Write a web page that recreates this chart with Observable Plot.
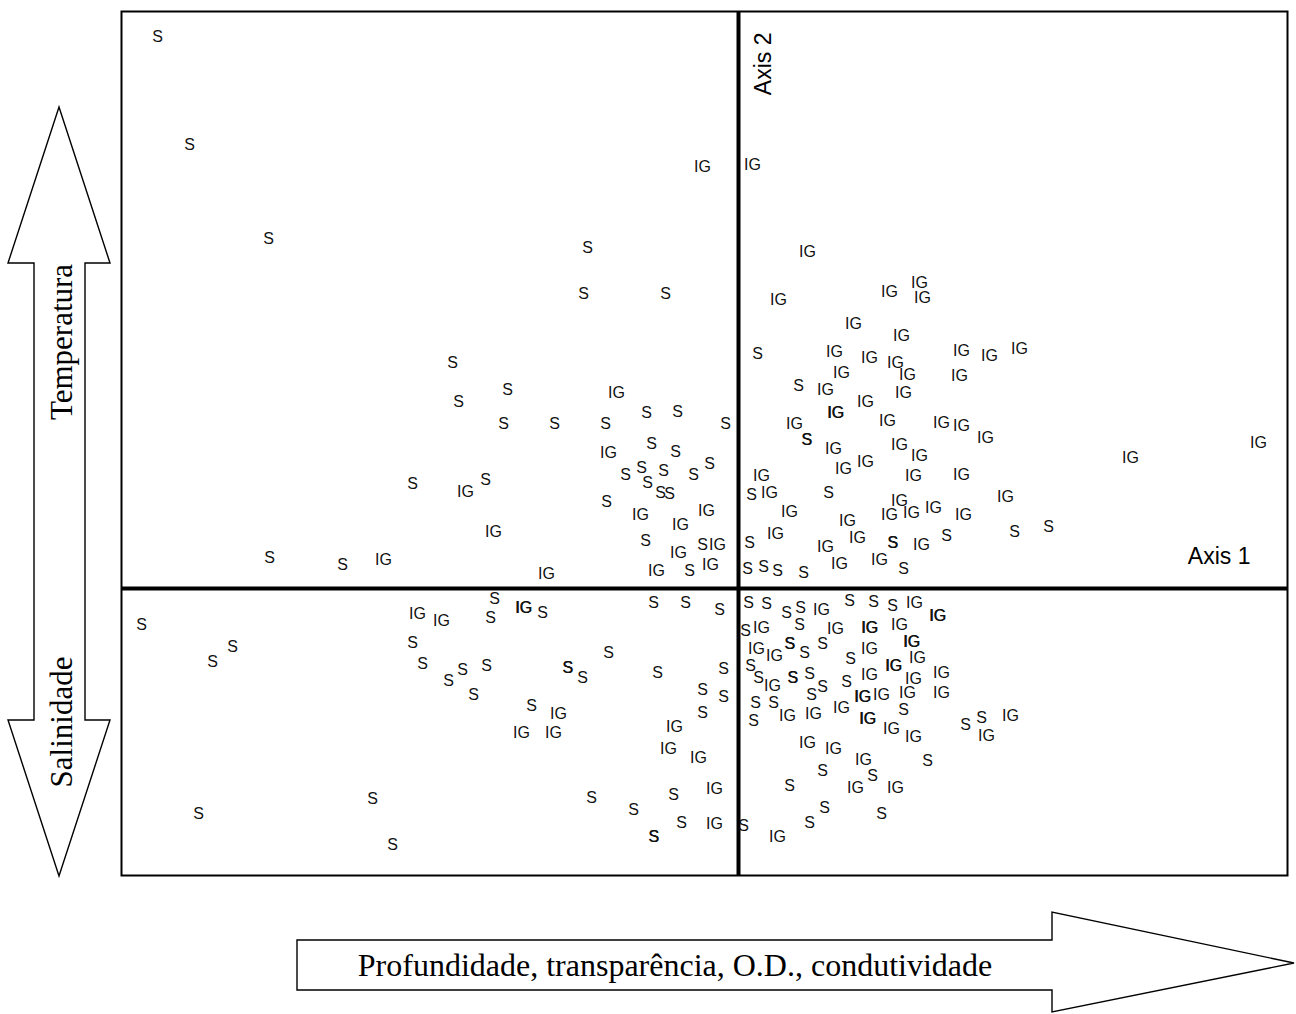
<!DOCTYPE html>
<html>
<head>
<meta charset="utf-8">
<script src="https://cdn.jsdelivr.net/npm/d3@7"></script>
<script src="https://cdn.jsdelivr.net/npm/@observablehq/plot@0.6"></script>
<style>
  html, body { margin: 0; padding: 0; background: #fff; overflow: hidden; }
  svg { display: block; }
</style>
</head>
<body>
<div id="chart"></div>
<script>
// Ordination scores [axis 1, axis 2] of each sample, by group.
// Repeated pairs are coincident samples (their labels overprint).
const sitesS = [
  [-5.81, 5.52], [-5.49, 4.44], [-4.70, 3.50], [-1.51, 3.41], [-1.55, 2.95], [-0.73, 2.95],
  [-2.86, 2.26], [-2.31, 1.99], [-2.80, 1.87], [-2.35, 1.65], [-1.84, 1.65], [-1.33, 1.65],
  [-0.92, 1.76], [-0.61, 1.77], [-0.13, 1.65], [-0.87, 1.45], [-0.63, 1.37], [-1.13, 1.14],
  [-0.97, 1.21], [-0.75, 1.18], [-0.91, 1.06], [-0.78, 0.96], [-0.69, 0.95], [-0.45, 1.14],
  [-0.29, 1.25], [-1.32, 0.87], [-0.93, 0.48], [-0.36, 0.44], [-0.49, 0.18], [-3.26, 1.05],
  [-2.53, 1.09], [-4.69, 0.31], [-3.96, 0.24],
  [0.19, 2.35], [0.60, 2.03], [0.68, 1.49], [0.686, 1.49], [0.13, 0.94], [0.90, 0.96],
  [0.11, 0.46], [1.54, 0.46], [1.546, 0.46], [2.08, 0.53], [0.09, 0.20], [0.25, 0.22],
  [0.39, 0.18], [0.65, 0.16], [1.65, 0.20], [2.76, 0.57], [3.10, 0.62],
  [-5.97, -0.36], [-5.06, -0.58], [-5.26, -0.73], [-2.44, -0.10], [-2.48, -0.29], [-1.96, -0.24],
  [-3.26, -0.54], [-3.16, -0.75], [-2.90, -0.92], [-2.76, -0.81], [-2.52, -0.77], [-2.65, -1.06],
  [-3.66, -2.10], [-3.46, -2.56], [-5.40, -2.25], [-0.85, -0.14], [-0.53, -0.14], [-0.19, -0.21],
  [-1.30, -0.64], [-1.71, -0.79], [-1.704, -0.79], [-1.56, -0.89], [-0.81, -0.84], [-0.15, -0.80],
  [-0.36, -1.01], [-0.15, -1.08], [-0.36, -1.24], [-2.07, -1.17], [-0.65, -2.06], [-1.47, -2.09],
  [-1.05, -2.21], [-0.57, -2.34], [-0.85, -2.48], [-0.844, -2.48],
  [0.10, -0.14], [0.28, -0.15], [0.48, -0.24], [0.62, -0.19], [1.11, -0.12], [1.35, -0.13],
  [1.54, -0.17], [0.07, -0.42], [0.61, -0.36], [0.51, -0.55], [0.516, -0.55], [0.66, -0.64],
  [0.84, -0.55], [1.12, -0.70], [0.12, -0.77], [0.20, -0.89], [0.54, -0.89], [0.546, -0.89],
  [0.71, -0.85], [0.84, -0.98], [0.73, -1.06], [1.08, -0.93], [0.17, -1.14], [0.35, -1.14],
  [0.15, -1.32], [1.65, -1.21], [2.27, -1.36], [2.43, -1.29], [1.89, -1.72], [0.84, -1.82],
  [1.34, -1.87], [0.51, -1.97], [0.86, -2.19], [0.71, -2.34], [1.43, -2.25], [0.05, -2.37]
];

const sitesIG = [
  [-0.36, 4.22], [0.14, 4.24], [-1.22, 1.96], [-1.30, 1.36], [-0.98, 0.74], [-0.58, 0.64],
  [-0.32, 0.78], [-0.21, 0.44], [-0.60, 0.36], [-0.28, 0.24], [-0.82, 0.18], [-1.92, 0.15],
  [-2.73, 0.97], [-2.45, 0.57], [-3.55, 0.29],
  [0.69, 3.37], [0.40, 2.89], [1.51, 2.97], [1.81, 3.06], [1.84, 2.91], [1.15, 2.65],
  [1.63, 2.53], [0.96, 2.37], [1.31, 2.31], [1.57, 2.26], [1.03, 2.16], [1.69, 2.14],
  [2.23, 2.38], [2.51, 2.33], [2.81, 2.40], [2.21, 2.13], [0.87, 1.99], [1.27, 1.87],
  [1.65, 1.96], [0.97, 1.76], [0.976, 1.76], [1.49, 1.68], [2.03, 1.66], [2.23, 1.63],
  [2.47, 1.51], [0.56, 1.65], [0.95, 1.40], [1.61, 1.44], [1.81, 1.33], [1.05, 1.20],
  [1.27, 1.27], [1.75, 1.13], [2.23, 1.14], [0.23, 1.13], [0.31, 0.96], [0.51, 0.77],
  [1.09, 0.68], [1.61, 0.88], [1.51, 0.74], [1.73, 0.76], [1.95, 0.81], [2.25, 0.74],
  [2.67, 0.92], [3.92, 1.31], [5.20, 1.46], [0.37, 0.55], [1.19, 0.51], [0.87, 0.42],
  [1.83, 0.44], [1.01, 0.25], [1.41, 0.29],
  [-3.21, -0.25], [-2.97, -0.32], [-2.15, -0.19], [-2.144, -0.19], [-1.80, -1.25], [-2.17, -1.44],
  [-1.85, -1.44], [-0.64, -1.38], [-0.70, -1.60], [-0.40, -1.69], [-0.24, -2.00], [-0.24, -2.35],
  [0.83, -0.21], [1.76, -0.14], [1.99, -0.27], [1.996, -0.27], [0.23, -0.39], [0.97, -0.40],
  [1.31, -0.39], [1.316, -0.39], [1.61, -0.36], [1.73, -0.53], [1.736, -0.53], [0.18, -0.60],
  [0.36, -0.67], [1.31, -0.60], [1.55, -0.77], [1.556, -0.77], [1.79, -0.69], [0.34, -0.97],
  [1.31, -0.86], [1.75, -0.90], [2.03, -0.84], [1.24, -1.08], [1.246, -1.08], [1.43, -1.06],
  [1.69, -1.04], [2.03, -1.04], [0.49, -1.27], [0.75, -1.25], [1.03, -1.19], [1.29, -1.30],
  [1.296, -1.30], [1.53, -1.40], [1.75, -1.48], [2.48, -1.47], [2.72, -1.27], [0.69, -1.54],
  [0.95, -1.60], [1.25, -1.71], [1.17, -1.99], [1.57, -1.99], [0.39, -2.48]
];

// Extent of the ordination plane
const axis1Extent = [-6.17, 5.49];
const axis2Extent = [-2.87, 5.77];
const axisNames = ["Axis 1", "Axis 2"];

// Environmental gradients associated with the axes
const gradientAxis1 = "Profundidade, transparência, O.D., condutividade";
const gradientAxis2Up = "Temperatura";
const gradientAxis2Down = "Salinidade";

const samples = [
  ...sitesS.map(([a1, a2]) => ({ a1, a2, group: "S" })),
  ...sitesIG.map(([a1, a2]) => ({ a1, a2, group: "IG" }))
];

const sans = "'Liberation Sans', Arial, Helvetica, sans-serif";
const serif = "'Liberation Serif', 'Times New Roman', serif";

const W = 1296, H = 1014;
const chart = Plot.plot({
  width: W,
  height: H,
  marginLeft: 121,
  marginRight: 9,
  marginTop: 11,
  marginBottom: 139,
  x: { domain: axis1Extent, axis: null },
  y: { domain: axis2Extent, axis: null },
  style: { background: "white", fontFamily: sans, color: "black" },
  marks: [
    Plot.ruleY([0], { stroke: "black", strokeWidth: 4 }),
    Plot.ruleX([0], { stroke: "black", strokeWidth: 4 }),
    Plot.text(samples, {
      x: "a1", y: "a2", text: "group",
      fontSize: 16, fontFamily: sans, fill: "#111"
    }),
    Plot.text([{ name: axisNames[0], a1: axis1Extent[1], a2: 0 }], {
      x: "a1", y: "a2", text: "name",
      textAnchor: "end", dx: -37, dy: -32,
      fontSize: 23, fontFamily: sans, fill: "black"
    }),
    Plot.text([{ name: axisNames[1], a1: 0, a2: axis2Extent[1] }], {
      x: "a1", y: "a2", text: "name",
      rotate: -90, textAnchor: "end", dx: 25, dy: 21,
      fontSize: 23, fontFamily: sans, fill: "black"
    }),
    Plot.frame({ stroke: "black", strokeWidth: 2 })
  ]
});

// Gradient arrows drawn beside the plot
const svg = d3.select(chart);
const deco = svg.append("g").attr("fill", "white").attr("stroke", "black").attr("stroke-width", 1.4);

// Double arrow along axis 2
deco.append("polygon").attr("points", [
  [59, 107], [110, 263], [85, 263], [85, 720], [110, 720],
  [59, 876], [8, 720], [34, 720], [34, 263], [8, 263]
].map(p => p.join(",")).join(" "));

// Single arrow along axis 1
deco.append("polygon").attr("points", [
  [297, 940], [1052, 940], [1052, 912], [1294, 963],
  [1052, 1012], [1052, 990], [297, 990]
].map(p => p.join(",")).join(" "));

const labels = svg.append("g")
  .attr("fill", "black")
  .attr("font-family", serif)
  .attr("text-anchor", "middle");

labels.append("text")
  .attr("font-size", 31)
  .attr("transform", "translate(72,342) rotate(-90)")
  .text(gradientAxis2Up);
labels.append("text")
  .attr("font-size", 31)
  .attr("transform", "translate(72,722) rotate(-90)")
  .text(gradientAxis2Down);
labels.append("text")
  .attr("font-size", 32)
  .attr("x", 675).attr("y", 976)
  .text(gradientAxis1);

document.getElementById("chart").appendChild(chart);
</script>
</body>
</html>
